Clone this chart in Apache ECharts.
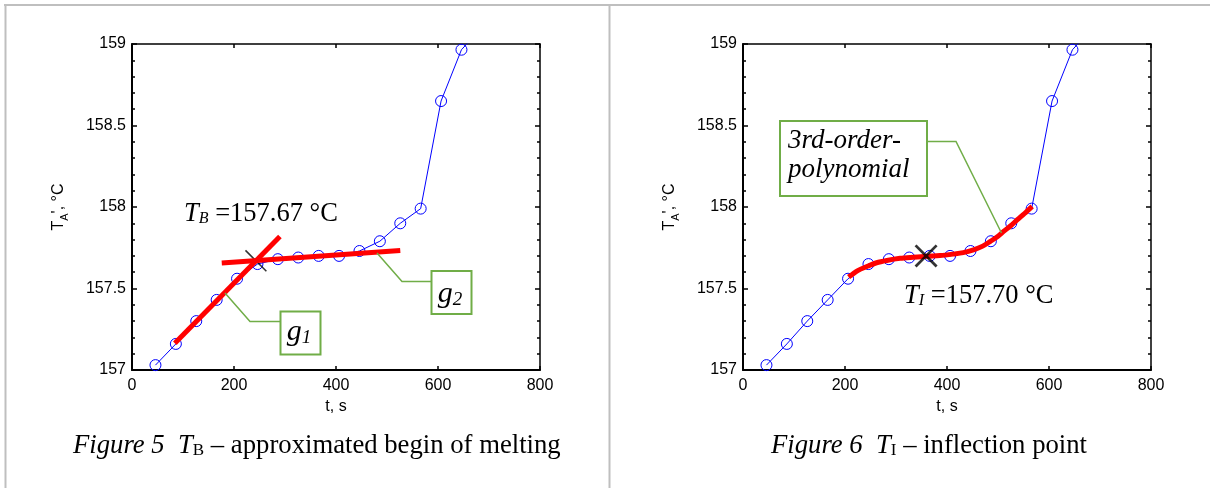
<!DOCTYPE html>
<html><head><meta charset="utf-8">
<script src="https://cdn.jsdelivr.net/npm/echarts@6/dist/echarts.min.js"></script>
<style>html,body{margin:0;padding:0;background:#fff}#c{width:1210px;height:488px}</style>
</head><body><div id="c"></div>
<script>
// ---- data ----
const times = [46, 86, 126, 166, 206, 246, 286, 326, 366, 406, 446, 486, 526, 566, 606, 646, 686];
const temps = [157.03, 157.16, 157.30, 157.43, 157.56, 157.65, 157.68, 157.69, 157.70, 157.70, 157.73, 157.79, 157.90, 157.99, 158.65, 158.965, 159.10];
const g1Times = [84, 290];
const g1Temps = [157.164, 157.819];
const g2Times = [176, 526];
const g2Temps = [157.656, 157.733];
const tbPoint = [243, 157.67];
const polyTimes = [207, 225, 243, 262, 282, 308, 334, 360, 386, 412, 432, 452, 470, 485, 500, 511, 525, 538, 552, 567];
const polyTemps = [157.57, 157.61, 157.635, 157.658, 157.672, 157.685, 157.692, 157.698, 157.702, 157.711, 157.72, 157.737, 157.76, 157.789, 157.82, 157.85, 157.885, 157.922, 157.96, 158.004];
const tiPoint = [359, 157.70];
const xRange = [0, 800], xStep = 200;
const yRange = [157, 159], yStep = 0.5;
const leftCaption = ['Figure 5', 'B', ' – approximated begin of melting'];
const rightCaption = ['Figure 6', 'I', ' – inflection point'];

const zip = (a, b) => a.map((v, i) => [v, b[i]]);
const SANS = 'Liberation Sans', SERIF = 'Liberation Serif';
const GREEN = '#70ad47';

function xAx(grid, bottom) {
  return {
    type: 'value', gridIndex: grid, position: bottom ? 'bottom' : 'top',
    min: xRange[0], max: xRange[1], interval: xStep,
    axisLine: { show: true, onZero: false, lineStyle: { color: '#000', width: bottom ? 2 : 1.5 } },
    axisTick: { show: true, inside: true, length: 4, lineStyle: { color: '#000', width: 1.5 } },
    axisLabel: { show: bottom, color: '#000', fontFamily: SANS, fontSize: 16, margin: 8 },
    splitLine: { show: false },
    name: bottom ? 't, s' : '', nameLocation: 'middle', nameGap: 27,
    nameTextStyle: { color: '#000', fontFamily: SANS, fontSize: 16 }
  };
}
function yAx(grid, left) {
  return {
    type: 'value', gridIndex: grid, position: left ? 'left' : 'right',
    min: yRange[0], max: yRange[1], interval: yStep,
    axisLine: { show: true, onZero: false, lineStyle: { color: '#000', width: left ? 2 : 1.5 } },
    axisTick: { show: true, inside: true, length: 5, lineStyle: { color: '#000', width: 1.5 } },
    minorTick: { show: true, splitNumber: 5, length: 3, lineStyle: { color: '#000', width: 1.5 } },
    axisLabel: { show: left, color: '#000', fontFamily: SANS, fontSize: 16, margin: 6 },
    splitLine: { show: false },
    name: left ? "{t|T}{s|A}{t|', °C}" : '', nameLocation: 'middle', nameGap: 62,
    nameTextStyle: {
      color: '#000', fontFamily: SANS, fontSize: 16,
      rich: {
        t: { fontFamily: SANS, fontSize: 16, lineHeight: 22, color: '#000' },
        s: { fontFamily: SANS, fontSize: 11, lineHeight: 11, verticalAlign: 'bottom', color: '#000' }
      }
    }
  };
}

const xShape = d => `path://M0,${d}L${d},0L10,${10 - d}L${10 - d},10Z M${10 - d},0L10,${d}L${d},10L0,${10 - d}Z`;

const blueSeries = (xi, yi) => ({
  type: 'line', xAxisIndex: xi, yAxisIndex: yi, data: zip(times, temps), clip: true,
  symbol: 'circle', symbolSize: 11, showSymbol: true,
  lineStyle: { color: '#0000ff', width: 1 },
  itemStyle: { color: 'rgba(0,0,0,0)', borderColor: '#0000ff', borderWidth: 1 },
  z: 2, animation: false
});
const redLine = (xi, yi, data, smooth) => ({
  type: 'line', xAxisIndex: xi, yAxisIndex: yi, data, smooth: smooth ? 0.3 : false,
  symbol: 'none', lineStyle: { color: '#ff0000', width: 5, cap: 'butt' }, z: 4, animation: false
});

const serifRich = size => ({
  i: { fontFamily: SERIF, fontStyle: 'italic', fontSize: size, lineHeight: size + 4, color: '#000', verticalAlign: 'bottom' },
  n: { fontFamily: SERIF, fontSize: size, lineHeight: size + 4, color: '#000', verticalAlign: 'bottom' },
  s: { fontFamily: SERIF, fontStyle: 'italic', fontSize: Math.round(size * 0.62), lineHeight: Math.round(size * 0.62), color: '#000', verticalAlign: 'bottom' },
  su: { fontFamily: SERIF, fontSize: Math.round(size * 0.62), lineHeight: Math.round(size * 0.62), color: '#000', verticalAlign: 'bottom' }
});

const chart = echarts.init(document.getElementById('c'), null, { renderer: 'canvas' });
chart.setOption({
  animation: false,
  backgroundColor: '#fff',
  grid: [
    { left: 132, top: 44, width: 408, height: 326 },
    { left: 743, top: 44, width: 408, height: 326 }
  ],
  xAxis: [xAx(0, true), xAx(0, false), xAx(1, true), xAx(1, false)],
  yAxis: [yAx(0, true), yAx(0, false), yAx(1, true), yAx(1, false)],
  series: [
    blueSeries(0, 0),
    { type: 'scatter', xAxisIndex: 0, yAxisIndex: 0, data: [tbPoint], symbol: xShape(0.5), symbolSize: 22,
      itemStyle: { color: '#000' }, z: 3, animation: false },
    redLine(0, 0, zip(g1Times, g1Temps)),
    redLine(0, 0, zip(g2Times, g2Temps)),
    blueSeries(2, 2),
    redLine(2, 2, zip(polyTimes, polyTemps), true),
    { type: 'scatter', xAxisIndex: 2, yAxisIndex: 2, data: [tiPoint], symbol: xShape(0.85), symbolSize: 23,
      itemStyle: { color: '#000' }, z: 6, animation: false }
  ],
  graphic: [
    // table borders
    { type: 'line', shape: { x1: 4, y1: 5, x2: 1210, y2: 5 }, style: { stroke: '#bfbfbf', lineWidth: 2 }, z: 0 },
    { type: 'line', shape: { x1: 5.5, y1: 4, x2: 5.5, y2: 488 }, style: { stroke: '#bfbfbf', lineWidth: 2 }, z: 0 },
    { type: 'line', shape: { x1: 609.5, y1: 4, x2: 609.5, y2: 488 }, style: { stroke: '#bfbfbf', lineWidth: 2 }, z: 0 },
    // callouts, left
    { type: 'polyline', shape: { points: [[280, 321.5], [250, 321.5], [225, 293]] }, style: { stroke: GREEN, lineWidth: 1.5, fill: null }, z: 10 },
    { type: 'rect', shape: { x: 280.5, y: 311.5, width: 40, height: 43 }, style: { stroke: GREEN, lineWidth: 2, fill: '#fff' }, z: 10 },
    { type: 'text', x: 299, y: 330, z: 11, style: { text: '{i|g}{s|1}', rich: serifRich(30), align: 'center', verticalAlign: 'middle' } },
    { type: 'polyline', shape: { points: [[431, 281.5], [402, 281.5], [377, 253]] }, style: { stroke: GREEN, lineWidth: 1.5, fill: null }, z: 10 },
    { type: 'rect', shape: { x: 431.5, y: 271, width: 40, height: 43 }, style: { stroke: GREEN, lineWidth: 2, fill: '#fff' }, z: 10 },
    { type: 'text', x: 450, y: 292, z: 11, style: { text: '{i|g}{s|2}', rich: serifRich(30), align: 'center', verticalAlign: 'middle' } },
    { type: 'text', x: 184, y: 212, z: 11, style: { text: '{i|T}{s|B}{n| =157.67 °C}', rich: serifRich(26.5), align: 'left', verticalAlign: 'middle' } },
    // callouts, right
    { type: 'polyline', shape: { points: [[927, 141.5], [956, 141.5], [1001.5, 233]] }, style: { stroke: GREEN, lineWidth: 1.5, fill: null }, z: 10 },
    { type: 'rect', shape: { x: 780, y: 121, width: 147, height: 75 }, style: { stroke: GREEN, lineWidth: 2, fill: '#fff' }, z: 10 },
    { type: 'text', x: 788, y: 155, z: 11, style: { text: '{i|3rd-order-}\n{i|polynomial}',
      rich: { i: { fontFamily: SERIF, fontStyle: 'italic', fontSize: 27, lineHeight: 29, color: '#000' } }, align: 'left', verticalAlign: 'middle' } },
    { type: 'text', x: 904, y: 294, z: 11, style: { text: '{i|T}{s|I}{n| =157.70 °C}', rich: serifRich(26.5), align: 'left', verticalAlign: 'middle' } },
    // captions
    { type: 'text', x: 73, y: 444, z: 11, style: { text: `{i|${leftCaption[0]}}{n|  }{i|T}{su|${leftCaption[1]}}{n|${leftCaption[2]}}`, rich: serifRich(26.7), align: 'left', verticalAlign: 'middle' } },
    { type: 'text', x: 771, y: 444, z: 11, style: { text: `{i|${rightCaption[0]}}{n|  }{i|T}{su|${rightCaption[1]}}{n|${rightCaption[2]}}`, rich: serifRich(26.7), align: 'left', verticalAlign: 'middle' } }
  ]
});
</script></body></html>
